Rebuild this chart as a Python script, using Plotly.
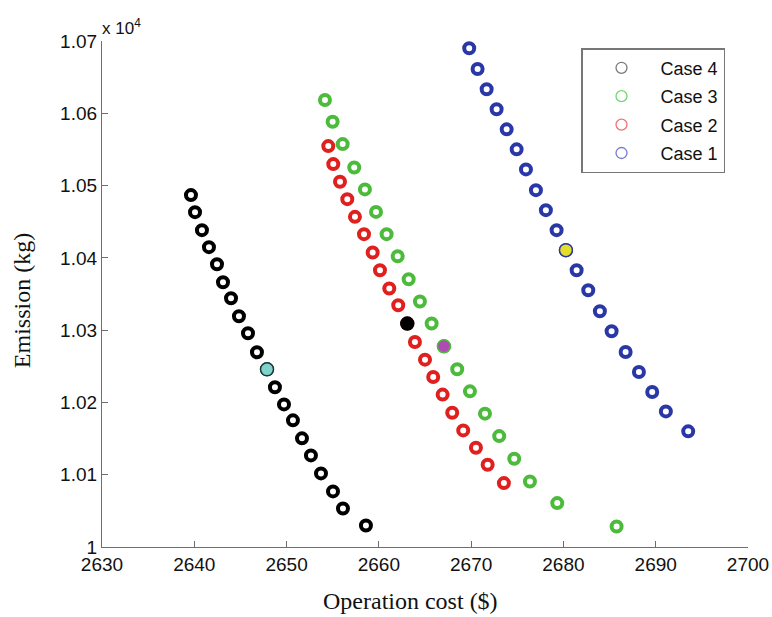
import plotly.graph_objects as go

# ---- data (emission in units of 1e4 kg) ----
case4_cost = [2639.64, 2640.08, 2640.83, 2641.59, 2642.46, 2643.11, 2643.98, 2644.84, 2645.82, 2646.79,
              2647.88, 2648.74, 2649.72, 2650.69, 2651.67, 2652.64, 2653.73, 2655.03, 2656.11, 2658.60]
case4_emis = [1.04868, 1.04632, 1.04383, 1.04148, 1.03912, 1.03663, 1.03441, 1.03192, 1.02957, 1.02694,
              1.02458, 1.02209, 1.01973, 1.01752, 1.01503, 1.01267, 1.01018, 1.00769, 1.00533, 1.00298]

case3_cost = [2654.16, 2654.99, 2656.08, 2657.33, 2658.49, 2659.69, 2660.84, 2662.04, 2663.23, 2664.45,
              2665.72, 2667.05, 2668.49, 2669.87, 2671.50, 2673.04, 2674.67, 2676.37, 2679.33, 2685.76]
case3_emis = [1.06183, 1.05883, 1.05574, 1.05251, 1.04947, 1.04636, 1.04328, 1.04023, 1.03704, 1.03396,
              1.03091, 1.02777, 1.02458, 1.02153, 1.01845, 1.01534, 1.01221, 1.00907, 1.00607, 1.00284]

case2_cost = [2654.52, 2655.06, 2655.79, 2656.58, 2657.41, 2658.39, 2659.33, 2660.12, 2661.13, 2662.10,
              2663.08, 2663.91, 2665.00, 2665.89, 2666.91, 2667.95, 2669.14, 2670.52, 2671.79, 2673.55]
case2_emis = [1.05546, 1.05297, 1.05052, 1.04812, 1.04567, 1.04328, 1.04074, 1.03829, 1.03576, 1.03344,
              1.03091, 1.02836, 1.02592, 1.02352, 1.02108, 1.01858, 1.01613, 1.01374, 1.01138, 1.00884]

case1_cost = [2669.79, 2670.70, 2671.68, 2672.76, 2673.85, 2674.93, 2675.94, 2677.02, 2678.10, 2679.26,
              2680.27, 2681.43, 2682.69, 2683.95, 2685.22, 2686.74, 2688.18, 2689.62, 2691.10, 2693.52]
case1_emis = [1.06899, 1.06613, 1.06332, 1.06055, 1.05778, 1.05501, 1.05224, 1.04937, 1.04660, 1.04383,
              1.04106, 1.03829, 1.03552, 1.03261, 1.02984, 1.02698, 1.02421, 1.02144, 1.01876, 1.01600]

# highlighted (selected) solutions
sel_cost = [2647.88, 2663.08, 2667.05, 2680.27]
sel_emis = [1.02458, 1.03091, 1.02777, 1.04106]
sel_fill = ["#7fd3cc", "#000000", "#b04bb5", "#e3dd2c"]
sel_edge = ["#1a3a38", "#000000", "#4cbb3c", "#2b35a0"]

x_ticks = [2630, 2640, 2650, 2660, 2670, 2680, 2690, 2700]
y_ticks = [1.00, 1.01, 1.02, 1.03, 1.04, 1.05, 1.06, 1.07]
y_ticklabels = ["1", "1.01", "1.02", "1.03", "1.04", "1.05", "1.06", "1.07"]

series = [
    ("Case 1", case1_cost, case1_emis, "#2a37a6", "#7478d0"),
    ("Case 2", case2_cost, case2_emis, "#e0201e", "#f07272"),
    ("Case 3", case3_cost, case3_emis, "#4cbb3c", "#72d672"),
    ("Case 4", case4_cost, case4_emis, "#000000", "#7a7a7a"),
]

fig = go.Figure()
for name, xs, ys, col, lcol in series:
    fig.add_trace(go.Scatter(
        x=xs, y=ys, mode="markers", showlegend=False, name=name,
        marker=dict(symbol="circle-open", size=10, color=col, line=dict(width=4, color=col)),
    ))

fig.add_trace(go.Scatter(
    x=sel_cost, y=sel_emis, mode="markers", showlegend=False,
    marker=dict(symbol="circle", size=13, color=sel_fill, line=dict(width=1.5, color=sel_edge)),
))

# legend entries (thin circles, listed Case 4 .. Case 1)
for name, xs, ys, col, lcol in reversed(series):
    fig.add_trace(go.Scatter(
        x=[None], y=[None], mode="markers", name=name, legendgroup=name,
        marker=dict(symbol="circle-open", size=11, color=lcol, line=dict(width=1.3, color=lcol)),
    ))

axis_col = "#6e6e6e"
serif = "Liberation Serif, Times New Roman, serif"
sans = "Liberation Sans, Arial, sans-serif"
fig.update_layout(
    width=772, height=617,
    margin=dict(l=102, r=24, t=41, b=70, autoexpand=False),
    paper_bgcolor="white", plot_bgcolor="white",
    font=dict(family=sans, size=19, color="#111111"),
    showlegend=True,
    legend=dict(
        x=0.7415, y=0.986, xanchor="left", yanchor="top",
        bordercolor="#777777", borderwidth=1.5, bgcolor="white",
        font=dict(size=18, family=sans, color="#111111"),
        itemwidth=68, tracegroupgap=2, traceorder="grouped",
    ),
    xaxis=dict(
        range=[2630, 2700], tickvals=x_ticks, ticktext=[str(v) for v in x_ticks],
        showgrid=False, zeroline=False, showline=True, linecolor=axis_col, linewidth=1.3,
        ticks="inside", ticklen=6, tickcolor=axis_col, tickwidth=1.3, automargin=False,
    ),
    yaxis=dict(
        range=[1.0, 1.07], tickvals=y_ticks, ticktext=y_ticklabels,
        showgrid=False, zeroline=False, showline=True, linecolor=axis_col, linewidth=1.3,
        ticks="inside", ticklen=6, tickcolor=axis_col, tickwidth=1.3, automargin=False,
    ),
    annotations=[
        dict(text="x 10<sup>4</sup>", xref="paper", yref="paper", x=0.0, y=1.0,
             xanchor="left", yanchor="bottom", showarrow=False, xshift=-2, yshift=1,
             font=dict(size=17, family=sans, color="#111111")),
        dict(text="Operation cost ($)", xref="paper", yref="paper", x=0.477, y=-0.106,
             xanchor="center", yanchor="middle", showarrow=False,
             font=dict(size=24, family=serif, color="#111111")),
        dict(text="Emission (kg)", xref="paper", yref="paper", x=-0.124, y=0.4876,
             xanchor="center", yanchor="middle", showarrow=False, textangle=-90,
             font=dict(size=24, family=serif, color="#111111")),
    ],
)

fig.write_html(
    "out.html",
    config={"displayModeBar": False},
    post_script="document.body.style.margin='0';document.body.style.overflow='hidden';",
)
